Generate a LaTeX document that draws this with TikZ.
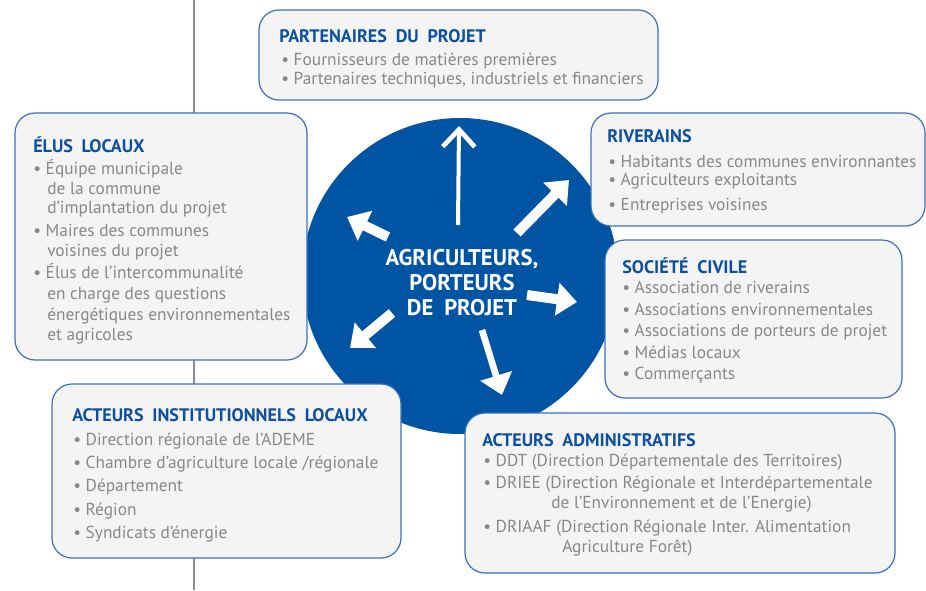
\documentclass[tikz,border=0pt]{standalone}
\usepackage{fontspec}
\setmainfont{PT Sans}
\newfontfamily\ttlfamily[WordSpace=1.9]{PT Sans}
\usetikzlibrary{arrows.meta,fit}
\definecolor{cblue}{RGB}{0,84,164}
\definecolor{tblue}{RGB}{14,80,160}
\definecolor{bblue}{RGB}{58,112,186}
\definecolor{boxfill}{RGB}{244,244,244}
\definecolor{igray}{RGB}{136,136,136}
\definecolor{lgray}{RGB}{140,140,155}
\begin{document}
\begin{tikzpicture}[x=0.75pt,y=-0.75pt,
  box/.style={draw=bblue, fill=boxfill, rounded corners=15pt, line width=0.9pt, inner sep=0pt},
  ttl/.style={anchor=base west, inner sep=0pt, text=tblue, font=\ttlfamily\fontsize{13.6}{16}\selectfont\bfseries},
  itm/.style={anchor=base west, inner sep=0pt, text=igray, font=\fontsize{13}{15}\selectfont},
  ctext/.style={anchor=base, inner sep=0pt, text=white, font=\ttlfamily\fontsize{17}{20}\selectfont\bfseries},
  warrow/.style={draw=white, line width=7.5pt, -{Triangle[width=24pt,length=15pt]}},
  thinarrow/.style={draw=white, line width=3pt, -{Straight Barb[width=24pt,length=13pt,line width=3.5pt]}}
]
\useasboundingbox (0,0) rectangle (926,590);
% vertical line
\coordinate (lt) at (194,0);
\coordinate (lb) at (194,590);
\draw[lgray, line width=0.9pt] (lt) -- (lb);
% circle
\node[circle, fill=cblue, minimum size=237pt, inner sep=0pt] (c) at (460,276) {};
% arrows
\coordinate (a1s) at (458,225); \coordinate (a1e) at (459,126);
\coordinate (a2s) at (517,233); \coordinate (a2e) at (569,180);
\coordinate (a3s) at (388,237); \coordinate (a3e) at (347,217);
\coordinate (a4s) at (527,295); \coordinate (a4e) at (577,302);
\coordinate (a5s) at (392,313); \coordinate (a5e) at (350,348);
\coordinate (a6s) at (482,330); \coordinate (a6e) at (502,395);
\draw[thinarrow] (a1s) -- (a1e);
\draw[warrow] (a2s) -- (a2e);
\draw[warrow] (a3s) -- (a3e);
\draw[warrow] (a4s) -- (a4e);
\draw[warrow] (a5s) -- (a5e);
\draw[warrow, line width=5pt] (a6s) -- (a6e);
% center text
\node[ctext] (ct1) at (462,265) {AGRICULTEURS,};
\node[ctext] (ct2) at (462,290) {PORTEURS};
\node[ctext] (ct3) at (462,315) {DE PROJET};
% boxes
\coordinate (p1) at (259,10);  \coordinate (p2) at (658,100);
\coordinate (e1) at (15,113);  \coordinate (e2) at (307,360);
\coordinate (r1) at (591,113); \coordinate (r2) at (925,226);
\coordinate (s1) at (605,240); \coordinate (s2) at (902,398);
\coordinate (i1) at (52,384);  \coordinate (i2) at (401,558);
\coordinate (d1) at (465,413); \coordinate (d2) at (895,573);
\node[box, fit=(p1)(p2)] (bp) {};
\node[box, fit=(e1)(e2)] (be) {};
\node[box, fit=(r1)(r2)] (br) {};
\node[box, fit=(s1)(s2)] (bs) {};
\node[box, fit=(i1)(i2)] (bi) {};
\node[box, fit=(d1)(d2)] (bd) {};
% PARTENAIRES
\node[ttl] (pt) at (279,42) {PARTENAIRES DU PROJET};
\node[itm] (pa) at (281,65) {• Fournisseurs de matières premières};
\node[itm] (pb) at (281,84) {• Partenaires techniques, industriels et financiers};
% ELUS
\node[ttl] (et) at (33,152) {ÉLUS LOCAUX};
\node[itm] (ea) at (33,174) {• Équipe municipale};
\node[itm] (eb) at (47,194) {de la commune};
\node[itm] (ec) at (47,213) {d’implantation du projet};
\node[itm] (ed) at (33,236) {• Maires des communes};
\node[itm] (ee) at (47,256) {voisines du projet};
\node[itm] (ef) at (33,278) {• Élus de l’intercommunalité};
\node[itm] (eg) at (47,299) {en charge des questions};
\node[itm] (eh) at (47,320) {énergétiques environnementales};
\node[itm] (ei) at (47,340) {et agricoles};
% RIVERAINS
\node[ttl] (rt) at (607,142) {RIVERAINS};
\node[itm] (ra) at (608,167) {• Habitants des communes environnantes};
\node[itm] (rb) at (608,185) {• Agriculteurs exploitants};
\node[itm] (rc) at (608,210) {• Entreprises voisines};
% SOCIETE
\node[ttl] (st) at (622,273) {SOCIÉTÉ CIVILE};
\node[itm] (sa) at (622,293) {• Association de riverains};
\node[itm] (sb) at (622,315) {• Associations environnementales};
\node[itm] (sc) at (622,336) {• Associations de porteurs de projet};
\node[itm] (sd) at (622,358) {• Médias locaux};
\node[itm] (se) at (622,379) {• Commerçants};
% INSTITUTIONNELS
\node[ttl] (it) at (72,421) {ACTEURS INSTITUTIONNELS LOCAUX};
\node[itm] (ia) at (73,445) {• Direction régionale de l’ADEME};
\node[itm] (ib) at (73,468) {• Chambre d’agriculture locale /régionale};
\node[itm] (ic) at (73,491) {• Département};
\node[itm] (id) at (73,515) {• Région};
\node[itm] (ie) at (73,538) {• Syndicats d’énergie};
% ADMINISTRATIFS
\node[ttl] (dt) at (482,446) {ACTEURS ADMINISTRATIFS};
\node[itm] (da) at (483,466) {• DDT (Direction Départementale des Territoires)};
\node[itm] (db) at (483,488) {• DRIEE (Direction Régionale et Interdépartementale};
\node[itm] (dc) at (551,508) {de l’Environnement et de l’Energie)};
\node[itm] (dd) at (483,532) {• DRIAAF (Direction Régionale Inter. Alimentation};
\node[itm] (de) at (562,552) {Agriculture Forêt)};
\end{tikzpicture}
\end{document}
